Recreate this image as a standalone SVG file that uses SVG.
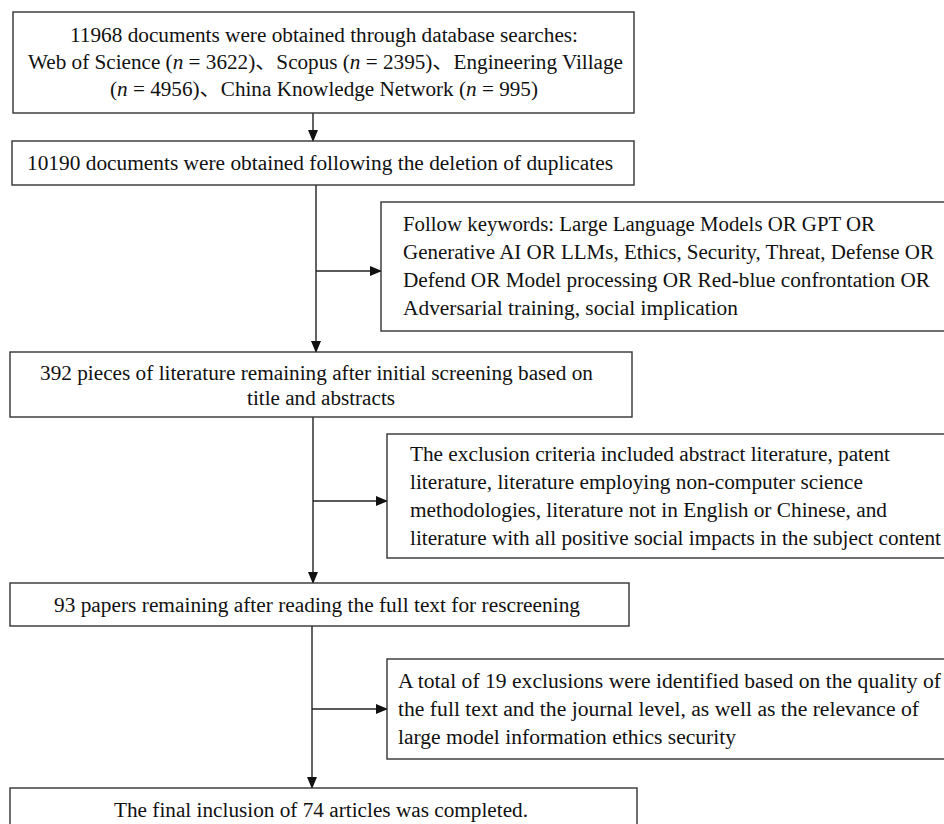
<svg xmlns="http://www.w3.org/2000/svg" width="944" height="824" viewBox="0 0 944 824">
<defs>
<marker id="ah" markerWidth="12" markerHeight="10" refX="11" refY="5" orient="auto" markerUnits="userSpaceOnUse">
<path d="M0,0 L12,5 L0,10 Z" fill="#111"/>
</marker>
<style>
.box{fill:#fff;stroke:#333;stroke-width:1.4}
.t{font-family:"Liberation Serif","Noto Sans CJK SC",serif;font-size:20px;fill:#111}
.c{stroke:#222;stroke-width:1.4;fill:none}
.i{font-style:italic}
</style>
</defs>
<rect width="944" height="824" fill="#fff"/>
<g id="connectors">
<line class="c" x1="313" y1="113" x2="313" y2="141" marker-end="url(#ah)"/>
<line class="c" x1="316" y1="185" x2="316" y2="352" marker-end="url(#ah)"/>
<line class="c" x1="316" y1="271" x2="381" y2="271" marker-end="url(#ah)"/>
<line class="c" x1="313" y1="417" x2="313" y2="583" marker-end="url(#ah)"/>
<line class="c" x1="313" y1="501" x2="387" y2="501" marker-end="url(#ah)"/>
<line class="c" x1="312" y1="626" x2="312" y2="788" marker-end="url(#ah)"/>
<line class="c" x1="312" y1="709" x2="387" y2="709" marker-end="url(#ah)"/>
</g>
<g id="n1">
<rect class="box" x="13" y="12" width="621" height="101"/>
<text class="t" x="70" y="42" textLength="508" lengthAdjust="spacingAndGlyphs">11968 documents were obtained through database searches:</text>
<text class="t" x="28" y="69" textLength="595" lengthAdjust="spacingAndGlyphs">Web of Science (<tspan class="i">n</tspan> = 3622)、Scopus (<tspan class="i">n</tspan> = 2395)、Engineering Village</text>
<text class="t" x="110" y="96" textLength="428" lengthAdjust="spacingAndGlyphs">(<tspan class="i">n</tspan> = 4956)、China Knowledge Network (<tspan class="i">n</tspan> = 995)</text>
</g>
<g id="n2">
<rect class="box" x="12" y="141" width="622" height="44"/>
<text class="t" x="27" y="170" textLength="586" lengthAdjust="spacingAndGlyphs">10190 documents were obtained following the deletion of duplicates</text>
</g>
<g id="n3">
<rect class="box" x="381" y="202" width="600" height="129"/>
<text class="t" x="403" y="231" textLength="472" lengthAdjust="spacingAndGlyphs">Follow keywords: Large Language Models OR GPT OR</text>
<text class="t" x="403" y="259" textLength="531" lengthAdjust="spacingAndGlyphs">Generative AI OR LLMs, Ethics, Security, Threat, Defense OR</text>
<text class="t" x="403" y="287" textLength="527" lengthAdjust="spacingAndGlyphs">Defend OR Model processing OR Red-blue confrontation OR</text>
<text class="t" x="403" y="315" textLength="335" lengthAdjust="spacingAndGlyphs">Adversarial training, social implication</text>
</g>
<g id="n4">
<rect class="box" x="10" y="352" width="622" height="65"/>
<text class="t" x="40" y="380" textLength="553" lengthAdjust="spacingAndGlyphs">392 pieces of literature remaining after initial screening based on</text>
<text class="t" x="247" y="405" textLength="148" lengthAdjust="spacingAndGlyphs">title and abstracts</text>
</g>
<g id="n5">
<rect class="box" x="387" y="434" width="600" height="124"/>
<text class="t" x="410" y="461" textLength="480" lengthAdjust="spacingAndGlyphs">The exclusion criteria included abstract literature, patent</text>
<text class="t" x="410" y="489" textLength="453" lengthAdjust="spacingAndGlyphs">literature, literature employing non-computer science</text>
<text class="t" x="410" y="517" textLength="477" lengthAdjust="spacingAndGlyphs">methodologies, literature not in English or Chinese, and</text>
<text class="t" x="410" y="545" textLength="531" lengthAdjust="spacingAndGlyphs">literature with all positive social impacts in the subject content</text>
</g>
<g id="n6">
<rect class="box" x="10" y="583" width="619" height="43"/>
<text class="t" x="54" y="612" textLength="526" lengthAdjust="spacingAndGlyphs">93 papers remaining after reading the full text for rescreening</text>
</g>
<g id="n7">
<rect class="box" x="387" y="659" width="600" height="100"/>
<text class="t" x="398" y="688" textLength="543" lengthAdjust="spacingAndGlyphs">A total of 19 exclusions were identified based on the quality of</text>
<text class="t" x="398" y="716" textLength="521" lengthAdjust="spacingAndGlyphs">the full text and the journal level, as well as the relevance of</text>
<text class="t" x="398" y="744" textLength="338" lengthAdjust="spacingAndGlyphs">large model information ethics security</text>
</g>
<g id="n8">
<rect class="box" x="10" y="788" width="627" height="50"/>
<text class="t" x="114" y="817" textLength="414" lengthAdjust="spacingAndGlyphs">The final inclusion of 74 articles was completed.</text>
</g>
</svg>
